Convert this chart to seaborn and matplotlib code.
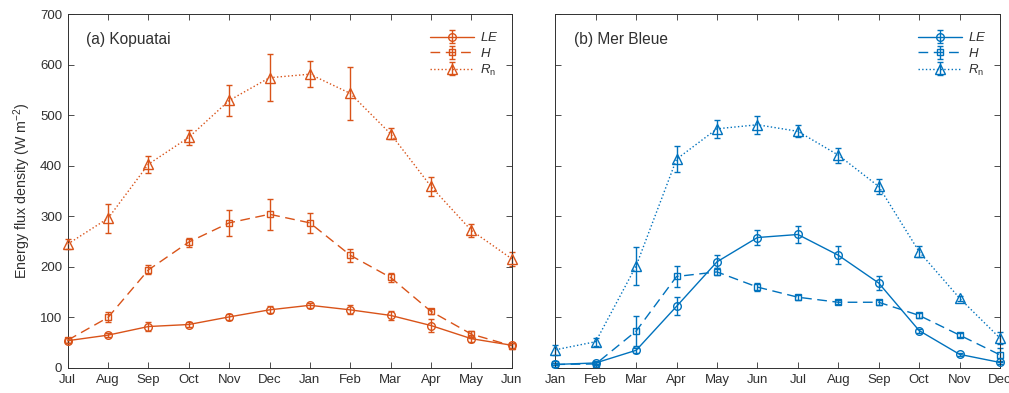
import numpy as np
import pandas as pd
import matplotlib
matplotlib.use("Agg")
import matplotlib.pyplot as plt
from matplotlib.legend_handler import HandlerTuple
import seaborn as sns

# Monthly mean energy fluxes (W m-2) with standard errors
months_a = ["Jul", "Aug", "Sep", "Oct", "Nov", "Dec", "Jan", "Feb", "Mar", "Apr", "May", "Jun"]
le_a = [54, 65, 82, 86, 101, 115, 124, 115, 104, 84, 58, 45]
le_a_err = [5, 4, 9, 5, 6, 7, 5, 9, 9, 12, 7, 5]
h_a = [55, 100, 194, 249, 287, 304, 287, 223, 179, 112, 67, 44]
h_a_err = [5, 10, 9, 9, 26, 31, 20, 13, 8, 5, 7, 6]
rn_a = [245, 296, 403, 456, 529, 574, 581, 543, 463, 359, 272, 216]
rn_a_err = [10, 29, 17, 15, 31, 47, 26, 52, 11, 19, 12, 14]

months_b = ["Jan", "Feb", "Mar", "Apr", "May", "Jun", "Jul", "Aug", "Sep", "Oct", "Nov", "Dec"]
le_b = [7, 10, 35, 122, 210, 258, 264, 223, 168, 74, 27, 11]
le_b_err = [2, 2, 5, 18, 13, 15, 17, 18, 13, 4, 3, 3]
h_b = [7, 8, 73, 181, 190, 160, 140, 130, 130, 104, 65, 26]
h_b_err = [2, 3, 30, 21, 7, 8, 5, 4, 5, 5, 4, 14]
rn_b = [36, 52, 202, 413, 473, 481, 468, 421, 359, 230, 138, 59]
rn_b_err = [10, 8, 38, 25, 18, 18, 12, 15, 14, 11, 5, 12]

ORANGE = "#D95319"
BLUE = "#0072BD"
AXC = "#303030"

sns.set_style("ticks")
plt.rcParams["font.family"] = ["Liberation Sans", "DejaVu Sans"]
plt.rcParams["mathtext.fontset"] = "custom"
plt.rcParams["mathtext.rm"] = "Liberation Sans"
plt.rcParams["mathtext.it"] = "Liberation Sans:italic"
plt.rcParams["axes.edgecolor"] = AXC
plt.rcParams["xtick.color"] = AXC
plt.rcParams["ytick.color"] = AXC

fig = plt.figure(figsize=(10.09, 3.93), dpi=100)
W, H = 1009, 393
ax_a = fig.add_axes([67.7 / W, 25 / H, 444 / W, 354 / H])
ax_b = fig.add_axes([555.3 / W, 25 / H, 444.7 / W, 354 / H])

series_style = [
    ("LE", "o", "-", 5.5),
    ("H", "s", (0, (7, 4)), 4.5),
    ("Rn", "^", ":", 6.5),
]
labels = [r"$\mathit{LE}$", r"$\mathit{H}$", r"$\mathit{R}_\mathrm{n}$"]


def panel(ax, months, vals, errs, color, title, show_ylabels):
    x = np.arange(len(months))
    handles = []
    for (name, mk, ls, ms), v, e in zip(series_style, vals, errs):
        df = pd.DataFrame({"pos": x, "flux": v})
        n_before = len(ax.lines)
        sns.lineplot(data=df, x="pos", y="flux", ax=ax, color=color, marker=mk,
                     markersize=ms, markerfacecolor="none", markeredgecolor=color,
                     markeredgewidth=1.0, linestyle=ls, linewidth=1.0, sort=False,
                     zorder=3, clip_on=False)
        line = ax.lines[n_before]
        eb = ax.errorbar(x, v, yerr=e, fmt="none", ecolor=color, elinewidth=1.0,
                         capsize=2.5, capthick=1.0, zorder=2)
        for art in eb.lines[1]:
            art.set_clip_on(False)
        for art in eb.lines[2]:
            art.set_clip_on(False)
        handles.append((line, eb))
    ax.set_xlim(0, len(months) - 1)
    ax.set_ylim(0, 700)
    ax.set_xticks(x)
    ax.set_xticklabels(months)
    ax.set_yticks(np.arange(0, 701, 100))
    if not show_ylabels:
        ax.set_yticklabels([])
    ax.set_xlabel("")
    ax.set_ylabel("")
    ax.tick_params(direction="in", length=4, width=0.6, labelsize=9.5,
                   top=True, right=True, pad=4)
    for sp in ax.spines.values():
        sp.set_visible(True)
        sp.set_linewidth(0.7)
    ax.text(0.041, 0.929, title, transform=ax.transAxes, fontsize=11.2,
            va="center", ha="left", color=AXC)
    ax.legend(handles, labels, handler_map={tuple: HandlerTuple(ndivide=1)},
              loc="upper right", bbox_to_anchor=(0.997, 0.985), frameon=False,
              fontsize=9.5, handlelength=3.3, handletextpad=0.5,
              labelspacing=0.2, labelcolor=AXC)


panel(ax_a, months_a, [le_a, h_a, rn_a], [le_a_err, h_a_err, rn_a_err],
      ORANGE, "(a) Kopuatai", True)
panel(ax_b, months_b, [le_b, h_b, rn_b], [le_b_err, h_b_err, rn_b_err],
      BLUE, "(b) Mer Bleue", False)

ax_a.set_ylabel(r"Energy flux density (W m$^{-2}$)", fontsize=10.3, color=AXC,
                labelpad=5)

fig.savefig("out.png", dpi=100)
